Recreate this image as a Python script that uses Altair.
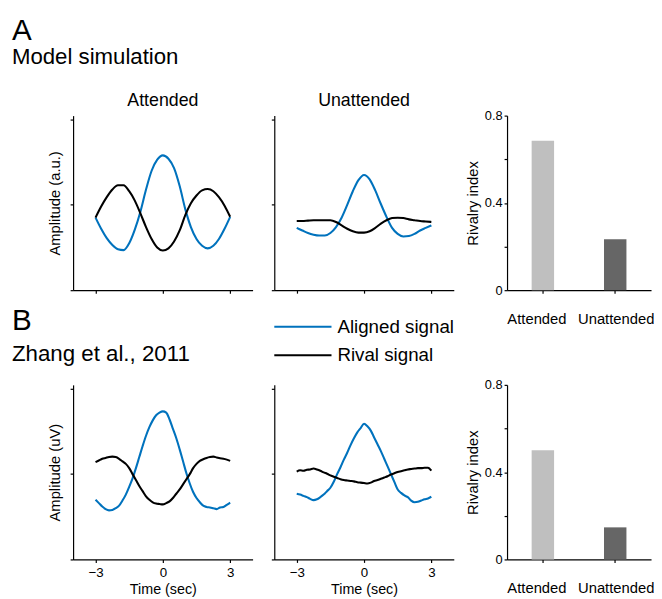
import altair as alt
import pandas as pd

# ---------------- data ----------------
signals = ["Aligned signal", "Rival signal"]
conditions = ["Attended", "Unattended"]

time_model = [-3.0, -2.75, -2.5, -2.25, -2.0, -1.75, -1.5, -1.25, -1.0, -0.75, -0.5, -0.25, 0.0,
              0.25, 0.5, 0.75, 1.0, 1.25, 1.5, 1.75, 2.0, 2.25, 2.5, 2.75, 3.0]
model_att_aligned = [-0.15, -0.28, -0.39, -0.47, -0.52, -0.53, -0.45, -0.29, -0.08, 0.18, 0.40, 0.53, 0.58,
                     0.54, 0.43, 0.22, -0.05, -0.26, -0.40, -0.48, -0.51, -0.48, -0.40, -0.28, -0.14]
model_att_rival = [-0.15, -0.02, 0.09, 0.18, 0.23, 0.23, 0.16, 0.05, -0.10, -0.26, -0.40, -0.50, -0.535,
                   -0.51, -0.43, -0.30, -0.12, 0.02, 0.11, 0.17, 0.185, 0.16, 0.09, -0.01, -0.14]
model_unatt_aligned = [-0.27, -0.30, -0.33, -0.35, -0.36, -0.36, -0.33, -0.26, -0.15, 0.0, 0.16, 0.29, 0.35,
                       0.30, 0.17, 0.01, -0.14, -0.27, -0.34, -0.37, -0.365, -0.34, -0.30, -0.27, -0.24]
model_unatt_rival = [-0.19, -0.19, -0.185, -0.18, -0.18, -0.18, -0.18, -0.20, -0.24, -0.28, -0.31, -0.325, -0.325,
                     -0.31, -0.27, -0.22, -0.18, -0.155, -0.15, -0.155, -0.17, -0.18, -0.19, -0.195, -0.20]

time_exp = [-3.0, -2.85, -2.7, -2.55, -2.4, -2.25, -2.1, -1.95, -1.8, -1.65, -1.5, -1.35, -1.2, -1.05,
            -0.9, -0.75, -0.6, -0.45, -0.3, -0.15, 0.0, 0.15, 0.3, 0.45, 0.6, 0.75, 0.9, 1.05, 1.2,
            1.35, 1.5, 1.65, 1.8, 1.95, 2.1, 2.25, 2.4, 2.55, 2.7, 2.85, 3.0]
exp_att_aligned = [-0.30, -0.34, -0.38, -0.41, -0.425, -0.42, -0.40, -0.37, -0.31, -0.24, -0.15, -0.05, 0.07,
                   0.20, 0.33, 0.45, 0.55, 0.63, 0.69, 0.72, 0.735, 0.72, 0.64, 0.53, 0.42, 0.29, 0.15,
                   0.01, -0.11, -0.21, -0.28, -0.33, -0.37, -0.385, -0.39, -0.40, -0.41, -0.39, -0.385,
                   -0.36, -0.335]
exp_att_rival = [0.14, 0.16, 0.18, 0.19, 0.20, 0.205, 0.20, 0.18, 0.15, 0.12, 0.07, 0.0, -0.07, -0.14,
                 -0.20, -0.26, -0.30, -0.33, -0.345, -0.35, -0.355, -0.34, -0.32, -0.28, -0.23, -0.18,
                 -0.12, -0.06, 0.0, 0.07, 0.12, 0.155, 0.175, 0.19, 0.20, 0.205, 0.195, 0.185, 0.18,
                 0.17, 0.155]
exp_unatt_aligned = [-0.23, -0.24, -0.255, -0.27, -0.29, -0.305, -0.295, -0.27, -0.24, -0.20, -0.16, -0.09,
                     0.0, 0.08, 0.17, 0.25, 0.34, 0.42, 0.49, 0.54, 0.59, 0.56, 0.51, 0.43, 0.35, 0.27,
                     0.18, 0.09, 0.0, -0.09, -0.18, -0.22, -0.25, -0.27, -0.31, -0.33, -0.325, -0.31,
                     -0.295, -0.285, -0.265]
exp_unatt_rival = [0.03, 0.045, 0.04, 0.05, 0.055, 0.065, 0.055, 0.04, 0.02, 0.005, -0.015, -0.03, -0.045,
                   -0.06, -0.07, -0.075, -0.08, -0.085, -0.095, -0.10, -0.105, -0.11, -0.10, -0.08, -0.07,
                   -0.055, -0.04, -0.025, -0.005, 0.01, 0.025, 0.035, 0.045, 0.055, 0.06, 0.065, 0.07,
                   0.07, 0.075, 0.075, 0.04]

rivalry_model = [0.685, 0.234]
rivalry_exp = [0.50, 0.147]

amp_ticks = [-1, 0, 1]
time_ticks = [-3, 0, 3]
rivalry_ticks = [0, 0.2, 0.4, 0.6, 0.8]

# ---------------- style ----------------
FONT = "Liberation Sans"
BLUE = "#0072BD"
LINE_W = 182
H = 177

legend = alt.Legend(title=None, orient="none", legendX=203, legendY=206, symbolType="stroke",
                    symbolSize=3364, symbolStrokeWidth=2, labelFontSize=19, labelFont=FONT,
                    labelColor="black", clipHeight=16, rowPadding=10, labelOffset=5, padding=0)


def line_panel(t, aligned, rival, title=None, ytitle=None, xlabels=False):
    df = pd.DataFrame({
        "time": list(t) * 2,
        "amp": list(aligned) + list(rival),
        "signal": [signals[0]] * len(t) + [signals[1]] * len(t),
    })
    xa = dict(values=time_ticks, labels=xlabels, tickSize=3, grid=False)
    if xlabels:
        xa.update(title="Time (sec)", labelPadding=3, titlePadding=4, labelFontSize=13.5,
                  titleFontSize=14.5)
    else:
        xa.update(title=None)
    ya = dict(values=amp_ticks, labels=False, tickSize=3, grid=False)
    if ytitle:
        ya.update(title=ytitle, titleFontSize=15, titlePadding=7)
    else:
        ya.update(title=None)
    ch = alt.Chart(df).mark_line(strokeWidth=2.1, interpolate="monotone").encode(
        x=alt.X("time:Q", scale=alt.Scale(domain=[-4, 4], nice=False, zero=False), axis=alt.Axis(**xa)),
        y=alt.Y("amp:Q", scale=alt.Scale(domain=[-1, 1.046], nice=False, zero=False), axis=alt.Axis(**ya)),
        color=alt.Color("signal:N", scale=alt.Scale(domain=signals, range=[BLUE, "black"]), legend=legend),
    ).properties(width=LINE_W, height=H)
    if title is not None:
        ch = ch.properties(title=title)
    return ch


def bar_panel(values):
    df = pd.DataFrame({"condition": conditions, "rivalry": values})
    return alt.Chart(df).mark_bar().encode(
        x=alt.X("condition:N", sort=conditions,
                scale=alt.Scale(paddingInner=0.69, paddingOuter=0.34),
                axis=alt.Axis(title=None, labelAngle=0, labelFontSize=15, labelPadding=19, tickSize=3,
                              labelOffset={"condition": {"test": "datum.value == 'Attended'", "value": -6},
                                           "value": 1})),
        y=alt.Y("rivalry:Q", scale=alt.Scale(domain=[0, 0.8], nice=False),
                axis=alt.Axis(values=rivalry_ticks, format="~g",
                              labelExpr="(datum.value == 0.2 || datum.value == 0.6) ? '' : datum.label",
                              title="Rivalry index", titleFontSize=15, labelFontSize=13, tickSize=3,
                              labelPadding=2, titlePadding=4, grid=False)),
        fill=alt.Fill("condition:N", scale=alt.Scale(domain=conditions, range=["#BFBFBF", "#666666"]),
                      legend=None),
    ).properties(width=146, height=H)


def col_title(text):
    return alt.TitleParams(text, fontSize=18, font=FONT, fontWeight="normal", color="black",
                           anchor="middle", offset=6)


a1 = line_panel(time_model, model_att_aligned, model_att_rival, title=col_title("Attended"),
                ytitle="Amplitude (a.u.)")
a2 = line_panel(time_model, model_unatt_aligned, model_unatt_rival, title=col_title("Unattended"))
b1 = line_panel(time_exp, exp_att_aligned, exp_att_rival,
                title=alt.TitleParams("B", subtitle="Zhang et al., 2011", anchor="start", frame="group",
                                      dx=-62, fontSize=30, subtitleFontSize=22.6, font=FONT,
                                      subtitleFont=FONT, fontWeight="normal", color="black",
                                      subtitleColor="black", offset=20, subtitlePadding=7),
                ytitle="Amplitude (uV)", xlabels=True)
b2 = line_panel(time_exp, exp_unatt_aligned, exp_unatt_rival, xlabels=True)

spacer = alt.Chart(pd.DataFrame({"v": [0]})).mark_point(opacity=0).encode(
    x=alt.X("v:Q", axis=None), y=alt.Y("v:Q", axis=None)).properties(width=10, height=H)

chart = alt.concat(
    a1, a2, spacer, bar_panel(rivalry_model),
    b1, b2, spacer, bar_panel(rivalry_exp),
    columns=4, spacing={"row": 96, "column": 22}, bounds="flush",
).properties(
    title=alt.TitleParams("A", subtitle="Model simulation", anchor="start", fontSize=30,
                          subtitleFontSize=22.5, font=FONT, subtitleFont=FONT, fontWeight="normal",
                          color="black", subtitleColor="black", offset=24, subtitlePadding=0),
    padding={"left": 4, "top": 4, "right": 0, "bottom": 0},
).configure_view(stroke=None).configure_axis(
    domainColor="black", domainWidth=1.2, tickColor="black", tickWidth=1.2,
    labelColor="black", titleColor="black", labelFont=FONT, titleFont=FONT,
    titleFontWeight="normal",
)

chart.save("out.html", embed_options={"renderer": "svg", "actions": False})
